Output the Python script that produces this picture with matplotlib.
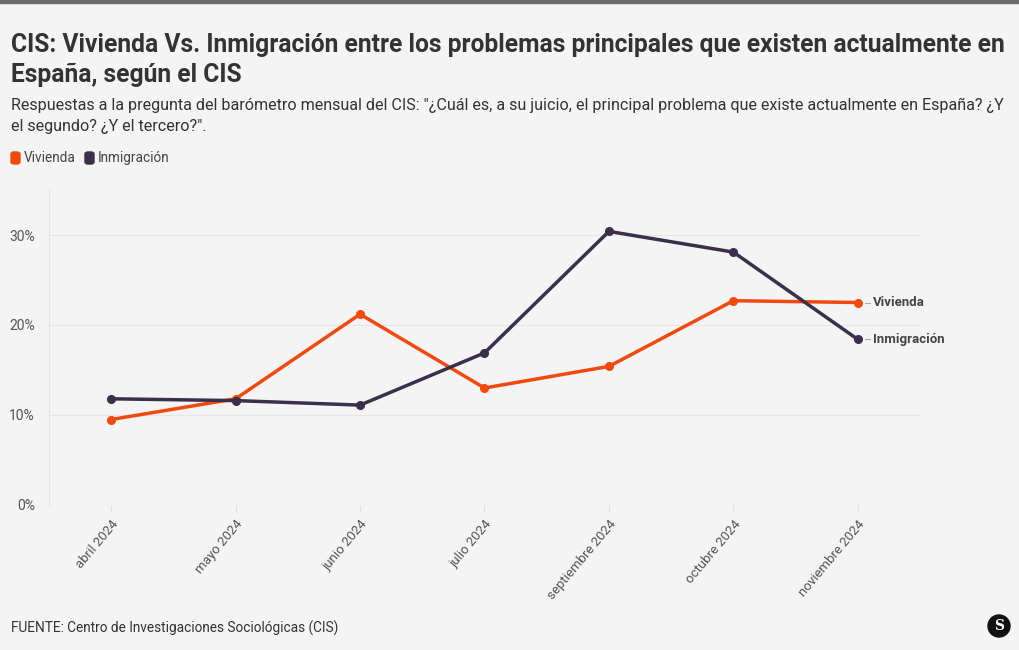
import matplotlib
matplotlib.use("Agg")
import matplotlib.pyplot as plt
from matplotlib.patches import FancyBboxPatch, Rectangle, Ellipse

plt.rcParams['font.family'] = ['Roboto', 'DejaVu Sans']

months = ["abril 2024", "mayo 2024", "junio 2024", "julio 2024",
          "septiembre 2024", "octubre 2024", "noviembre 2024"]
vivienda = [9.5, 11.8, 21.2, 13.0, 15.4, 22.7, 22.5]
inmigracion = [11.8, 11.6, 11.1, 16.9, 30.4, 28.1, 18.4]
yticks = [0, 10, 20, 30]
ytick_labels = ["0%", "10%", "20%", "30%"]

C_VIV = "#f2490f"
C_INM = "#3b2f4a"
BG = "#f4f4f4"
TXT = "#333333"

W, H = 1020, 650
fig = plt.figure(figsize=(W/100, H/100), dpi=100, facecolor=BG)

def fx(px): return px / W
def fy(py): return 1 - py / H

ax = fig.add_axes([fx(49), fy(505), fx(920) - fx(49), fy(190) - fy(505)])
ax.set_facecolor(BG)
x = list(range(len(months)))
ax.plot(x, vivienda, color=C_VIV, lw=2.5, marker='o', ms=5.5, zorder=3, solid_capstyle='round')
ax.plot(x, inmigracion, color=C_INM, lw=2.5, marker='o', ms=5.5, zorder=4, solid_capstyle='round')
ax.set_xlim(-0.5, 6.5)
ax.set_ylim(0, 35)
ax.set_yticks(yticks)
ax.set_yticklabels(ytick_labels)
ax.set_xticks(x)
ax.set_xticklabels(months, rotation=50, ha='right', rotation_mode='anchor')
ax.grid(axis='y', color='#e6e6e6', lw=0.8)
ax.set_axisbelow(True)
for s in ['top', 'right', 'bottom']:
    ax.spines[s].set_visible(False)
ax.spines['left'].set_color('#e3e3e3')
ax.spines['left'].set_linewidth(0.8)
ax.tick_params(axis='y', length=0, pad=10, labelsize=10, labelcolor='#555555')
ax.tick_params(axis='x', length=5, color='#e0e0e0', pad=4, labelsize=9.5, labelcolor='#555555')

# end labels
for series, name in [(vivienda, "Vivienda"), (inmigracion, "Inmigración")]:
    ax.plot([6.06, 6.1], [series[-1]]*2, color='#aaaaaa', lw=0.8, clip_on=False)
    ax.text(6.12, series[-1], name, fontsize=9.5, fontweight='bold', color='#444444',
            va='center', ha='left', clip_on=False)

# top bar
fig.patches.append(Rectangle((0, fy(3)), 1, 3/H, transform=fig.transFigure,
                             color='#6b6b6b', zorder=10))

fig.text(fx(11), fy(45), "CIS: Vivienda Vs. Inmigración entre los problemas principales que existen actualmente en",
         fontsize=17.7, fontweight='bold', color=TXT, va='center', ha='left')
fig.text(fx(11), fy(75), "España, según el CIS",
         fontsize=17.7, fontweight='bold', color=TXT, va='center', ha='left')
fig.text(fx(11), fy(105), 'Respuestas a la pregunta del barómetro mensual del CIS: "¿Cuál es, a su juicio, el principal problema que existe actualmente en España? ¿Y',
         fontsize=11.6, color=TXT, va='center', ha='left')
fig.text(fx(11), fy(127), 'el segundo? ¿Y el tercero?".',
         fontsize=11.6, color=TXT, va='center', ha='left')

# legend
for px, col, lab in [(11, C_VIV, "Vivienda"), (85, C_INM, "Inmigración")]:
    fig.patches.append(FancyBboxPatch((fx(px), fy(164)), 9/W, 12/H,
                                      boxstyle="round,pad=0,rounding_size=0.003",
                                      transform=fig.transFigure, color=col))
    fig.text(fx(px + 13), fy(158), lab, fontsize=9.8, color='#444444', va='center', ha='left')

fig.text(fx(11), fy(628), "FUENTE: Centro de Investigaciones Sociológicas (CIS)",
         fontsize=9.8, color=TXT, va='center', ha='left')

# logo
fig.patches.append(Ellipse((fx(999), fy(626)), 22/W, 22/H, transform=fig.transFigure, color='#111111'))
fig.text(fx(999), fy(626), "S", fontsize=10, fontweight='bold', color='white',
         va='center', ha='center', family='DejaVu Serif')

fig.savefig("out.png", dpi=100, facecolor=BG)
